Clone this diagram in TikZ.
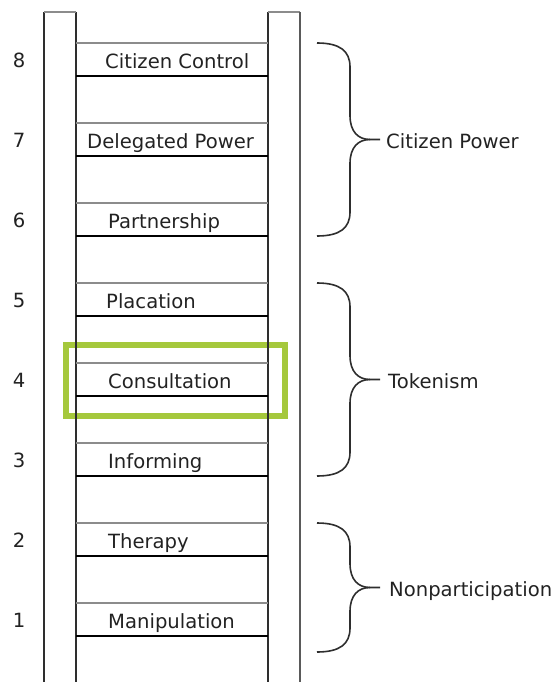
\documentclass[tikz,border=0pt]{standalone}
\usepackage{fontspec}
\setmainfont{DejaVu Sans}
\usepackage{xcolor}
\definecolor{rail}{HTML}{2E2E2E}
\definecolor{railg}{HTML}{5A5A5A}
\definecolor{rungg}{HTML}{8C8C8C}
\definecolor{ink}{HTML}{222222}
\definecolor{hl}{HTML}{A5C83C}
\usetikzlibrary{positioning,calc}
\tikzset{
  txt/.style={font=\fontsize{19.6}{22}\selectfont,text=ink,inner sep=0pt},
  num/.style={txt,anchor=base},
  lab/.style={txt,anchor=base west},
  rung/.style={draw=black,line width=2.2pt},
  rungtop/.style={draw=rungg,line width=2.2pt},
  railln/.style={draw=rail,line width=2.2pt},
  railcap/.style={draw=rungg,line width=2.2pt},
  brc/.style={draw=rail,line width=1.6pt},
  hbox/.style={draw=hl,line width=6pt},
}
\begin{document}
\begin{tikzpicture}[x=1pt,y=-1pt]
\useasboundingbox (0,0) rectangle (557,682);
% highlight
\draw[hbox] (65.5,345) rectangle (285,416);
% rails
\draw[railln] (44,690) -- (44,12);
\draw[railln] (76,12) -- (76,690);
\draw[railcap] (44,12) -- (76,12);
\draw[railln] (268,690) -- (268,12);
\draw[railcap] (268,12) -- (300,12);
\draw[railln,draw=railg] (300,12) -- (300,690);
% rungs
\foreach \k/\x/\t in {8/105/Citizen Control,7/87/Delegated Power,6/108/Partnership,
  5/106/Placation,4/108/Consultation,3/108/Informing,2/108/Therapy,1/108/Manipulation}{
  \pgfmathsetmacro{\y}{43+(8-\k)*80}
  \draw[rungtop] (76,\y) -- (268,\y);
  \draw[rung] (76,\y+33) -- (268,\y+33);
  \node[lab] (lab\k) at (\x,\y+25.5) {\t};
  \node[num] (num\k) at (19,\y+24.5) {\k};
}
% braces
\foreach \t/\b/\x/\txt/\nm in {43/236/386/Citizen Power/cp,283/476/388/Tokenism/tk,
  523/652/389/Nonparticipation/np}{
  \pgfmathsetmacro{\m}{(\t+\b)/2}
  \draw[brc] (317,\t) .. controls (340,\t) and (350,\t+8) .. (350,\t+24) -- (350,\m-24)
    .. controls (350,\m-8) and (358,\m) .. (370,\m) -- (380,\m);
  \draw[brc] (317,\b) .. controls (340,\b) and (350,\b-8) .. (350,\b-24) -- (350,\m+24)
    .. controls (350,\m+8) and (358,\m) .. (370,\m);
  \node[lab] (\nm) at (\x,\m+8.5) {\txt};
}
\end{tikzpicture}
\end{document}
